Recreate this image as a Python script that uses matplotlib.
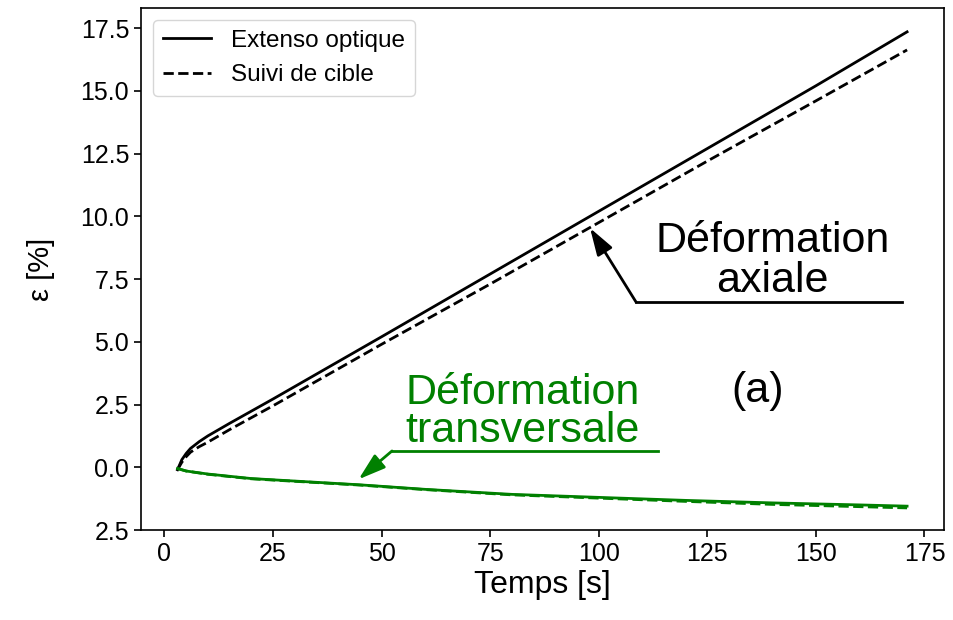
import matplotlib
matplotlib.use("Agg")
import matplotlib.pyplot as plt
from matplotlib.ticker import FixedLocator, FixedFormatter

plt.rcParams["font.family"] = ["Liberation Sans", "DejaVu Sans"]

# axial strain (black)
t_axial = [3, 4, 5, 6, 8, 10, 15, 25, 50, 75, 100, 125, 150, 171]
axial_extenso = [-0.1, 0.3, 0.55, 0.75, 1.02, 1.25, 1.75, 2.72, 5.2, 7.7, 10.2, 12.7, 15.2, 17.35]
axial_suivi = [-0.1, 0.2, 0.42, 0.6, 0.82, 1.0, 1.5, 2.45, 4.9, 7.3, 9.75, 12.2, 14.6, 16.63]

# transverse strain (green)
t_trans = [3, 5, 10, 20, 30, 45, 60, 80, 100, 120, 140, 160, 171]
trans_extenso = [-0.05, -0.15, -0.27, -0.45, -0.55, -0.7, -0.88, -1.08, -1.2, -1.32, -1.42, -1.5, -1.55]
trans_suivi = [-0.05, -0.15, -0.28, -0.46, -0.56, -0.71, -0.89, -1.1, -1.23, -1.36, -1.48, -1.57, -1.62]

ytick_vals = [-2.5, 0.0, 2.5, 5.0, 7.5, 10.0, 12.5, 15.0, 17.5]
ytick_labels = ["2.5", "0.0", "2.5", "5.0", "7.5", "10.0", "12.5", "15.0", "17.5"]

fig = plt.figure(figsize=(9.54, 6.2), dpi=100)
ax = fig.add_axes([141 / 954, 1 - 530 / 620, (944 - 141) / 954, (530 - 8) / 620])

ax.plot(t_axial, axial_extenso, color="black", lw=2, label="Extenso optique")
ax.plot(t_axial, axial_suivi, color="black", lw=2, ls="--", label="Suivi de cible")
ax.plot(t_trans, trans_extenso, color="green", lw=2)
ax.plot(t_trans, trans_suivi, color="green", lw=2, ls="--")

ax.set_xlim(-5.4, 179.5)
ax.set_ylim(-2.5, 18.3)
ax.set_xticks([0, 25, 50, 75, 100, 125, 150, 175])
ax.yaxis.set_major_locator(FixedLocator(ytick_vals))
ax.yaxis.set_major_formatter(FixedFormatter(ytick_labels))
ax.tick_params(labelsize=18, width=1.2, length=5)
for s in ax.spines.values():
    s.set_linewidth(1.2)

ax.set_xlabel("Temps [s]", fontsize=23, labelpad=3)
ax.set_ylabel("ε [%]", fontsize=21, labelpad=18)

ax.legend(loc="upper left", fontsize=17.5, handlelength=2.0)

big = 31
arrow = "-|>,head_width=0.35,head_length=1.1"

# axial annotation
ax.text(140, 8.2, "Déformation\naxiale", fontsize=big, ha="center", va="center",
        linespacing=1.0)
ax.plot([108.6, 169.8], [6.58, 6.58], color="black", lw=2)
ax.annotate("", xy=(98, 9.53), xytext=(108.6, 6.58),
            arrowprops=dict(arrowstyle=arrow, color="black", lw=2,
                            mutation_scale=15, shrinkA=0, shrinkB=0))

# transverse annotation
ax.text(82.5, 2.2, "Déformation\ntransversale", fontsize=big, ha="center",
        va="center", color="green", linespacing=0.92)
ax.plot([52.4, 113.6], [0.65, 0.65], color="green", lw=2)
ax.annotate("", xy=(44.7, -0.48), xytext=(52.4, 0.65),
            arrowprops=dict(arrowstyle=arrow, color="green", lw=2,
                            mutation_scale=15, shrinkA=0, shrinkB=0))

ax.text(136.5, 3.05, "(a)", fontsize=big, ha="center", va="center")

fig.savefig("out.png", dpi=100)
